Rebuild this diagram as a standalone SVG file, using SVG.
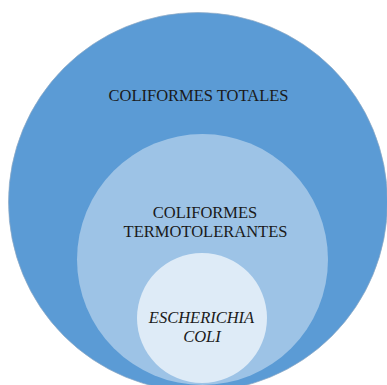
<svg xmlns="http://www.w3.org/2000/svg" width="387" height="385" viewBox="0 0 387 385">
  <style>
    .lbl { font-family: "Liberation Serif", "Times New Roman", serif; font-size: 16.5px; fill: #1a1a1a; text-anchor: middle; }
    .it { font-style: italic; }
  </style>
  <rect width="387" height="385" fill="#ffffff"/>
  <g id="coliformes-totales">
    <circle cx="198" cy="202" r="189.5" fill="#5B9BD5" stroke="#8ea9c4" stroke-width="0.7"/>
    <text class="lbl" x="198.5" y="101">COLIFORMES TOTALES</text>
  </g>
  <g id="coliformes-termotolerantes">
    <circle cx="202.5" cy="259.5" r="125.5" fill="#9DC3E6"/>
    <text class="lbl" x="205" y="217.5">COLIFORMES</text>
    <text class="lbl" x="205.5" y="236.7">TERMOTOLERANTES</text>
  </g>
  <g id="escherichia-coli">
    <circle cx="202" cy="318" r="65" fill="#DEEBF7"/>
    <text class="lbl it" x="201.5" y="322.7">ESCHERICHIA</text>
    <text class="lbl it" x="202" y="342">COLI</text>
  </g>
</svg>
